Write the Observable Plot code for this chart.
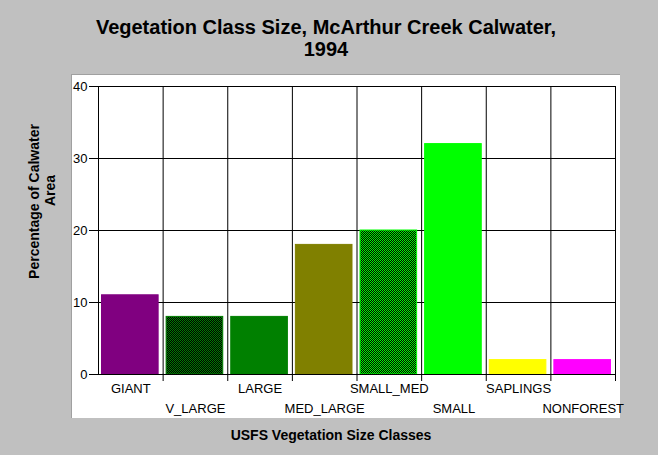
<!DOCTYPE html>
<html>
<head>
<meta charset="utf-8">
<script src="https://cdn.jsdelivr.net/npm/d3@7"></script>
<script src="https://cdn.jsdelivr.net/npm/@observablehq/plot@0.6"></script>
<style>
  html, body { margin: 0; padding: 0; }
  body { background: #c0c0c0; width: 658px; height: 455px; overflow: hidden; font-family: "Liberation Sans", Arial, sans-serif; }
  #title { height: 74px; box-sizing: border-box; padding-top: 16px; padding-right: 6px; text-align: center; font-weight: bold; font-size: 20px; line-height: 22px; color: #000; }
  #wrap { position: relative; width: 658px; height: 381px; }
  #panel { position: absolute; left: 71px; top: 0; width: 549px; height: 344px; background: #fff; border-left: 1px solid #a0a0a0; border-top: 1px solid #a0a0a0; box-sizing: border-box; }
  #wrap svg { position: absolute; left: 0; top: 0; }
</style>
</head>
<body>
<div id="title">Vegetation Class Size, McArthur Creek Calwater,<br>1994</div>
<div id="wrap"><div id="panel"></div><div id="chart"></div></div>
<script>
const categories = ["GIANT", "V_LARGE", "LARGE", "MED_LARGE", "SMALL_MED", "SMALL", "SAPLINGS", "NONFOREST"];
const values = [11, 8, 8, 18, 20, 32, 2, 2];
const fills = ["#800080", "url(#chkDark)", "#008000", "#808000", "url(#chkLight)", "#00ff00", "#ffff00", "#ff00ff"];
const strokes = ["#800080", "#008000", "#008000", "#808000", "#00ff00", "#00ff00", "#ffff00", "#ff00ff"];
const yTicks = [0, 10, 20, 30, 40];
const yTitle1 = "Percentage of Calwater";
const yTitle2 = "Area";
const xTitle = "USFS Vegetation Size Classes";

const data = categories.map((c, i) => ({cat: c, i, value: values[i], fill: fills[i], stroke: strokes[i]}));
const bounds = d3.range(1, categories.length + 1);

const chart = Plot.plot({
  width: 658,
  height: 381,
  marginLeft: 98,
  marginRight: 43,
  marginTop: 12,
  marginBottom: 81,
  style: {background: "transparent", fontFamily: "'Liberation Sans', Arial, sans-serif", fontSize: "13px", color: "#000", overflow: "visible"},
  x: {type: "linear", domain: [0, categories.length], axis: null},
  y: {domain: [0, 40], ticks: yTicks, tickSize: 9, tickPadding: 2, label: null, tickFormat: d => String(d)},
  color: {type: "identity"},
  marks: [
    Plot.ruleY(yTicks.filter(d => d > 0), {stroke: "#000"}),
    Plot.ruleX(bounds, {y1: 0, y2: 40, stroke: "#000"}),
    Plot.ruleX(bounds, {y1: 0, y2: 1, dy: 7, stroke: "#000"}),
    Plot.rectY(data, {x1: d => d.i, x2: d => d.i + 1, y: "value", fill: "fill", stroke: "stroke", strokeWidth: 1, insetLeft: 3.5, insetRight: 4.5}),
    Plot.ruleX([0], {y1: 0, y2: 40, stroke: "#000"}),
    Plot.ruleY([0], {stroke: "#000"}),
    Plot.text(data.filter(d => d.i % 2 === 0), {x: d => d.i + 0.5, y: 0, text: "cat", dy: 14, fontSize: 13, fill: "#000"}),
    Plot.text(data.filter(d => d.i % 2 === 1), {x: d => d.i + 0.5, y: 0, text: "cat", dy: 34, fontSize: 13, fill: "#000"}),
    Plot.text([yTitle1], {frameAnchor: "left", textAnchor: "middle", dx: -64, dy: -29, rotate: -90, fontWeight: "bold", fontSize: 14, fill: "#000"}),
    Plot.text([yTitle2], {frameAnchor: "left", textAnchor: "middle", dx: -48, dy: -40, rotate: -90, fontWeight: "bold", fontSize: 14, fill: "#000"}),
    Plot.text([xTitle], {frameAnchor: "bottom", lineAnchor: "middle", dx: -26, dy: 61, fontWeight: "bold", fontSize: 14, fill: "#000"})
  ]
});

const ns = "http://www.w3.org/2000/svg";
const defs = document.createElementNS(ns, "defs");
function checker(id, c1, c2) {
  const p = document.createElementNS(ns, "pattern");
  p.setAttribute("id", id);
  p.setAttribute("patternUnits", "userSpaceOnUse");
  p.setAttribute("width", 2);
  p.setAttribute("height", 2);
  const specs = [[0, 0, 2, 2, c2], [0, 0, 1, 1, c1], [1, 1, 1, 1, c1]];
  for (const [x, y, w, h, f] of specs) {
    const r = document.createElementNS(ns, "rect");
    r.setAttribute("x", x); r.setAttribute("y", y);
    r.setAttribute("width", w); r.setAttribute("height", h);
    r.setAttribute("fill", f);
    r.setAttribute("shape-rendering", "crispEdges");
    p.appendChild(r);
  }
  defs.appendChild(p);
}
checker("chkDark", "#008000", "#000000");
checker("chkLight", "#00ff00", "#000000");
chart.insertBefore(defs, chart.firstChild);

document.getElementById("chart").appendChild(chart);
</script>
</body>
</html>
